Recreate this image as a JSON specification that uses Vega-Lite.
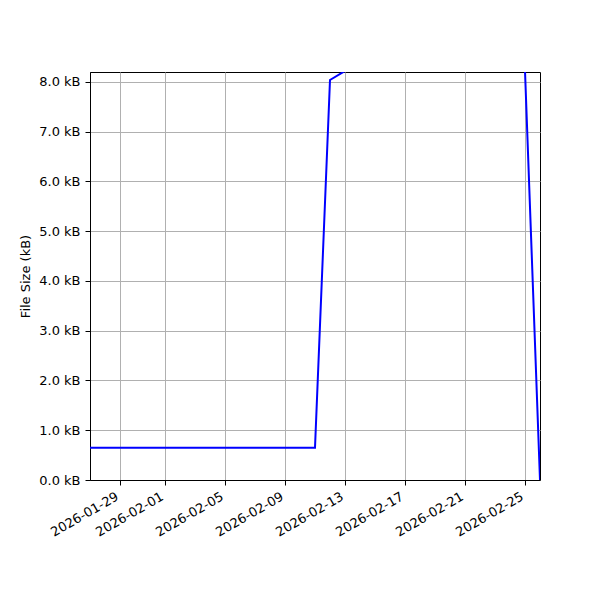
{
  "$schema": "https://vega.github.io/schema/vega-lite/v6.json",
  "width": 450,
  "height": 408,
  "autosize": {"type": "none"},
  "padding": {"left": 90, "top": 72, "right": 60, "bottom": 120},
  "background": "white",
  "config": {
    "font": "DejaVu Sans",
    "view": {"stroke": "black", "strokeWidth": 1},
    "axis": {
      "labelFont": "DejaVu Sans",
      "titleFont": "DejaVu Sans",
      "labelFontSize": 13,
      "titleFontSize": 13,
      "labelColor": "black",
      "titleColor": "black",
      "titleFontWeight": "normal",
      "domainColor": "black",
      "domainWidth": 1,
      "tickColor": "black",
      "tickSize": 5,
      "tickWidth": 1,
      "labelPadding": 4,
      "gridColor": "#b0b0b0",
      "gridWidth": 1,
      "gridOpacity": 1
    }
  },
  "data": {
    "values": [
      {"date": "2026-01-27", "size": 0.65},
      {"date": "2026-01-28", "size": 0.65},
      {"date": "2026-01-29", "size": 0.65},
      {"date": "2026-01-30", "size": 0.65},
      {"date": "2026-01-31", "size": 0.65},
      {"date": "2026-02-01", "size": 0.65},
      {"date": "2026-02-02", "size": 0.65},
      {"date": "2026-02-03", "size": 0.65},
      {"date": "2026-02-04", "size": 0.65},
      {"date": "2026-02-05", "size": 0.65},
      {"date": "2026-02-06", "size": 0.65},
      {"date": "2026-02-07", "size": 0.65},
      {"date": "2026-02-08", "size": 0.65},
      {"date": "2026-02-09", "size": 0.65},
      {"date": "2026-02-10", "size": 0.65},
      {"date": "2026-02-11", "size": 0.65},
      {"date": "2026-02-12", "size": 8.04},
      {"date": "2026-02-13", "size": 8.22},
      {"date": "2026-02-14", "size": 8.3},
      {"date": "2026-02-15", "size": 8.35},
      {"date": "2026-02-16", "size": 8.4},
      {"date": "2026-02-17", "size": 8.4},
      {"date": "2026-02-18", "size": 8.45},
      {"date": "2026-02-19", "size": 8.45},
      {"date": "2026-02-20", "size": 8.5},
      {"date": "2026-02-21", "size": 8.5},
      {"date": "2026-02-22", "size": 8.45},
      {"date": "2026-02-23", "size": 8.4},
      {"date": "2026-02-24", "size": 8.3},
      {"date": "2026-02-25", "size": 8.22},
      {"date": "2026-02-26", "size": 0.0}
    ]
  },
  "mark": {"type": "line", "color": "#0000ff", "strokeWidth": 2, "clip": true},
  "encoding": {
    "x": {
      "field": "date",
      "type": "temporal",
      "scale": {
        "type": "utc",
        "domain": [
          {"year": 2026, "month": 1, "date": 27, "utc": true},
          {"year": 2026, "month": 2, "date": 26, "utc": true}
        ],
        "nice": false
      },
      "axis": {
        "title": null,
        "grid": true,
        "values": [
          {"year": 2026, "month": 1, "date": 29, "utc": true},
          {"year": 2026, "month": 2, "date": 1, "utc": true},
          {"year": 2026, "month": 2, "date": 5, "utc": true},
          {"year": 2026, "month": 2, "date": 9, "utc": true},
          {"year": 2026, "month": 2, "date": 13, "utc": true},
          {"year": 2026, "month": 2, "date": 17, "utc": true},
          {"year": 2026, "month": 2, "date": 21, "utc": true},
          {"year": 2026, "month": 2, "date": 25, "utc": true}
        ],
        "labelExpr": "utcFormat(datum.value, '%Y-%m-%d')",
        "labelAngle": -30,
        "labelAlign": "right",
        "labelBaseline": "top",
        "labelPadding": 5,
        "labelOffset": -6,
        "labelOverlap": false,
        "labelFlush": false
      }
    },
    "y": {
      "field": "size",
      "type": "quantitative",
      "scale": {"domain": [0, 8.2], "nice": false, "zero": true},
      "axis": {
        "title": "File Size (kB)",
        "titlePadding": 6,
        "grid": true,
        "values": [0, 1, 2, 3, 4, 5, 6, 7, 8],
        "labelExpr": "format(datum.value, '.1f') + ' kB'",
        "labelPadding": 5,
        "labelFlush": false,
        "labelOverlap": false
      }
    }
  }
}
